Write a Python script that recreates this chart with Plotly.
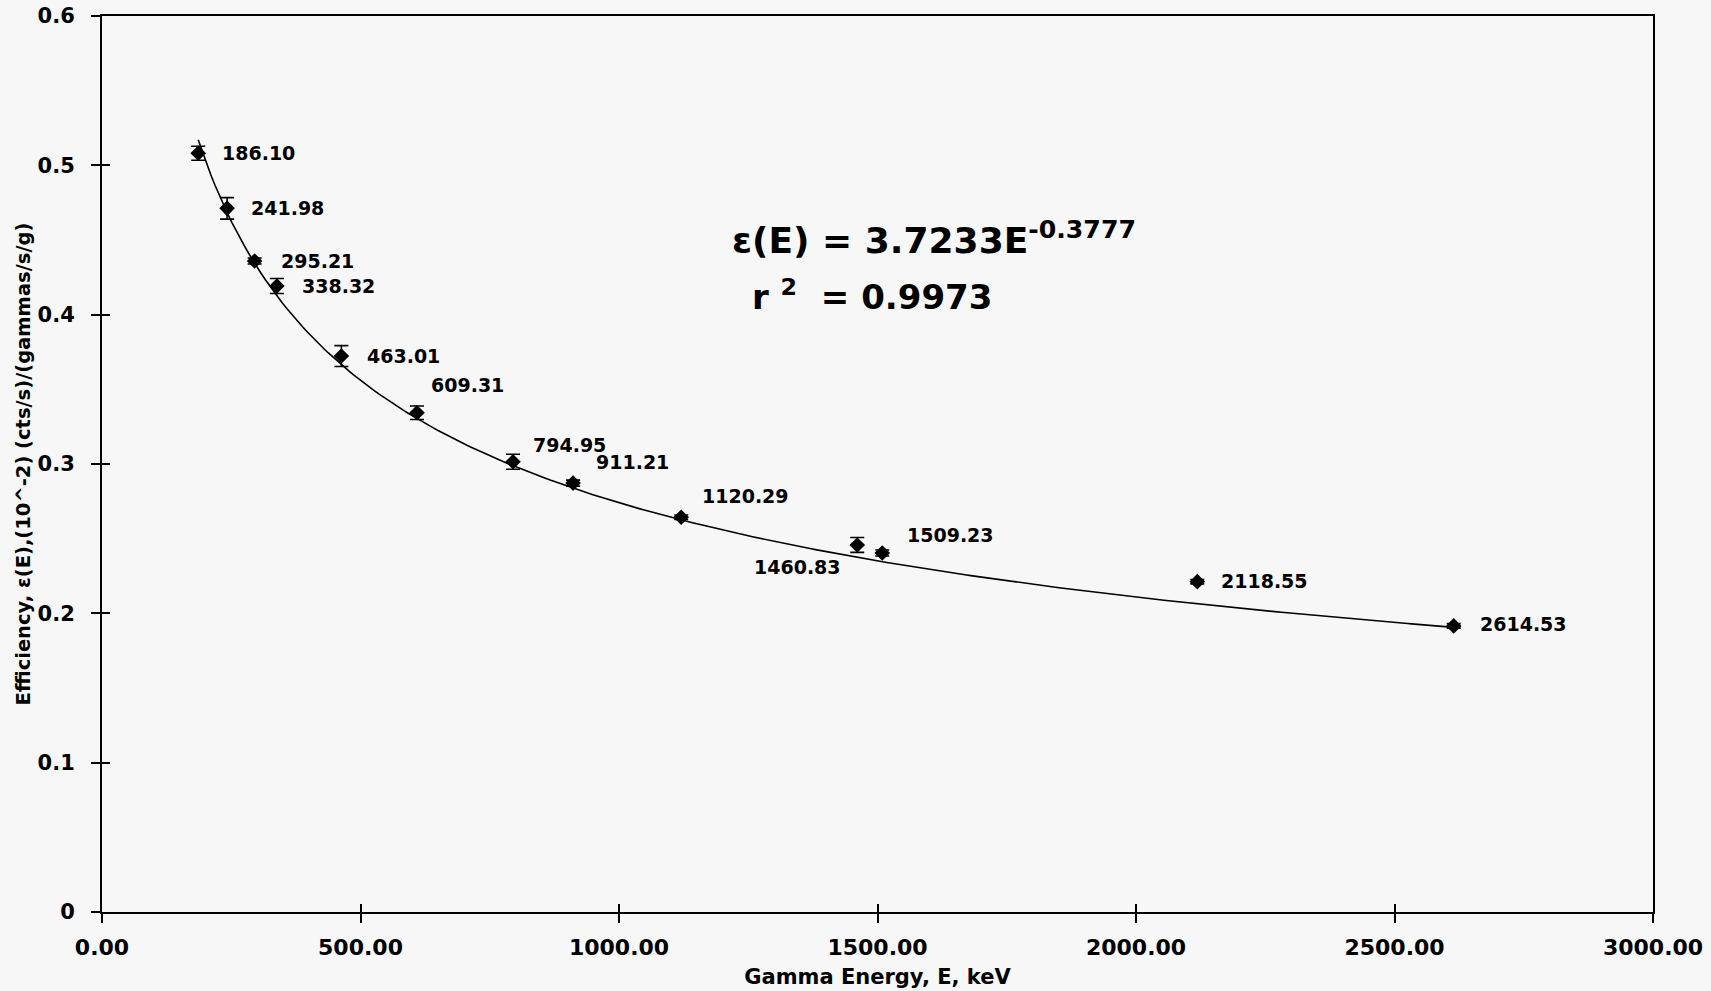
import numpy as np
import plotly.graph_objects as go

# Gamma line energies (keV) and measured efficiencies with 1-sigma errors
energy_kev = [186.10, 241.98, 295.21, 338.32, 463.01, 609.31, 794.95,
              911.21, 1120.29, 1460.83, 1509.23, 2118.55, 2614.53]
efficiency = [0.5081, 0.4712, 0.4359, 0.4192, 0.3723, 0.3343, 0.3015,
              0.2872, 0.2643, 0.2458, 0.2404, 0.2212, 0.1916]
eff_error = [0.0047, 0.0072, 0.0020, 0.0050, 0.0070, 0.0045, 0.0050,
             0.0020, 0.0015, 0.0050, 0.0020, 0.0015, 0.0015]

# Power-law fit eps(E) = A * E^B
fit_coeff = 3.7233
fit_exp = -0.3777
fit_r2 = 0.9973

x_ticks = [0, 500, 1000, 1500, 2000, 2500, 3000]
x_ticktext = ["0.00", "500.00", "1000.00", "1500.00", "2000.00", "2500.00", "3000.00"]
y_ticks = [0, 0.1, 0.2, 0.3, 0.4, 0.5, 0.6]
y_ticktext = ["0", "0.1", "0.2", "0.3", "0.4", "0.5", "0.6"]

# pixel offsets for each point label: (dx, dy, anchor)
label_offsets = [(22, 0, "left"), (22, 0, "left"), (24, 0, "left"), (23, 0, "left"),
                 (24, 0, "left"), (12, 28, "left"), (18, 17, "left"), (21, 21, "left"),
                 (19, 21, "left"), (-14, -22, "right"), (23, 18, "left"),
                 (22, 1, "left"), (24, 2, "left")]

FONT = "DejaVu Sans"
BG = "#f7f7f7"

fig = go.Figure()

e_fit = np.linspace(min(energy_kev), max(energy_kev), 300)
fig.add_trace(go.Scatter(
    x=e_fit, y=fit_coeff * e_fit ** fit_exp, mode="lines",
    line=dict(color="black", width=1.6), hoverinfo="skip", showlegend=False))

fig.add_trace(go.Scatter(
    x=energy_kev, y=efficiency, mode="markers",
    marker=dict(symbol="diamond", size=12, color="black"),
    error_y=dict(type="data", array=eff_error, visible=True,
                 color="black", thickness=1.6, width=7),
    showlegend=False))

# empty trace on the overlay axes that carry the inner half of the tick marks
fig.add_trace(go.Scatter(x=[], y=[], xaxis="x2", yaxis="y2",
                         showlegend=False, hoverinfo="skip"))

for e, v, (dx, dy, anchor) in zip(energy_kev, efficiency, label_offsets):
    fig.add_annotation(x=e, y=v, text=f"{e:.2f}", showarrow=False,
                       xanchor=anchor, yanchor="middle", xshift=dx, yshift=dy,
                       font=dict(family=FONT, size=19, color="black", weight="bold"))

fig.add_annotation(x=0.405, y=0.752, xref="paper", yref="paper",
                   xanchor="left", yanchor="middle", showarrow=False,
                   text=f"ε(E) = {fit_coeff:.4f}E<sup>{fit_exp:.4f}</sup>",
                   font=dict(family=FONT, size=36, color="black", weight="bold"))
fig.add_annotation(x=0.418, y=0.689, xref="paper", yref="paper",
                   xanchor="left", yanchor="middle", showarrow=False,
                   text=f"r <sup>2</sup>  = {fit_r2:.4f}",
                   font=dict(family=FONT, size=34, color="black", weight="bold"))

tick_font = dict(family=FONT, size=22, color="black", weight="bold")

fig.update_layout(
    width=1711, height=991,
    margin=dict(l=102, r=58, t=16, b=79),
    paper_bgcolor=BG, plot_bgcolor=BG,
    xaxis=dict(range=[0, 3000], tickvals=x_ticks, ticktext=x_ticktext,
               showgrid=False, zeroline=False, showline=True, linecolor="black",
               linewidth=2, mirror=True, ticks="outside", ticklen=9,
               tickwidth=1.5, tickcolor="black", tickfont=tick_font,
               ticklabelstandoff=6, automargin=False,
               title=dict(text="Gamma Energy, E, keV",
                          font=dict(family=FONT, size=21, color="black", weight="bold"),
                          standoff=10)),
    yaxis=dict(range=[0, 0.6], tickvals=y_ticks, ticktext=y_ticktext,
               showgrid=False, zeroline=False, showline=True, linecolor="black",
               linewidth=2, mirror=True, ticks="outside", ticklen=9,
               tickwidth=1.5, tickcolor="black", tickfont=dict(tick_font, size=21),
               ticklabelstandoff=12, automargin=False,
               title=dict(text="Efficiency, ε(E),(10^-2) (cts/s)/(gammas/s/g)",
                          font=dict(family=FONT, size=19.5, color="black", weight="bold"),
                          standoff=2)),
    xaxis2=dict(range=[0, 3000], tickvals=x_ticks, overlaying="x", anchor="y2",
                showticklabels=False, showgrid=False, zeroline=False,
                showline=False, ticks="inside", ticklen=8, tickwidth=1.5,
                tickcolor="black", automargin=False),
    yaxis2=dict(range=[0, 0.6], tickvals=y_ticks, overlaying="y", anchor="x2",
                showticklabels=False, showgrid=False, zeroline=False,
                showline=False, ticks="inside", ticklen=8, tickwidth=1.5,
                tickcolor="black", automargin=False),
)

fig.write_html("out.html")
